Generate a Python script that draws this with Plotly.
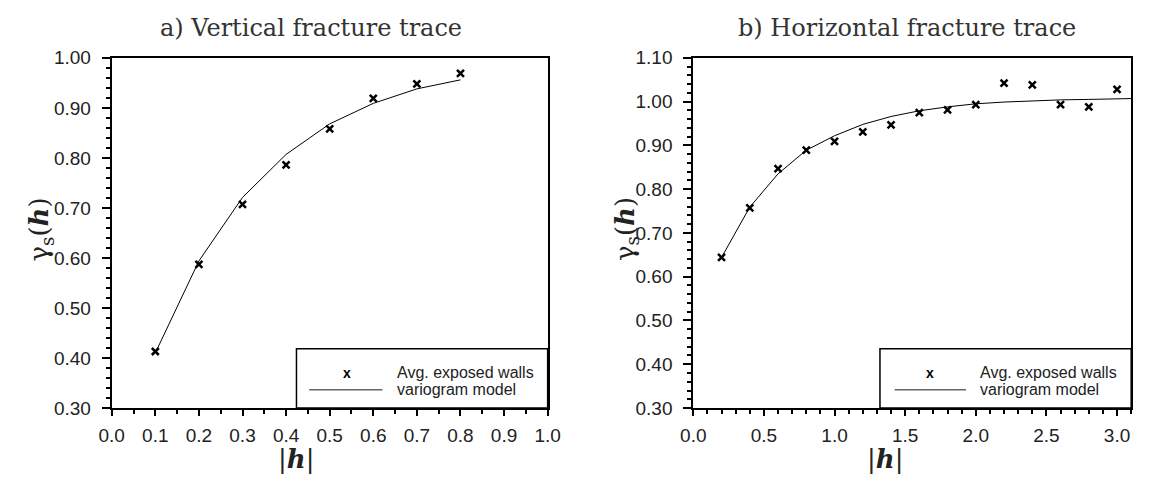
import plotly.graph_objects as go

# ---- data: a) vertical fracture trace
h_a = [0.1, 0.2, 0.3, 0.4, 0.5, 0.6, 0.7, 0.8]
obs_a = [0.413, 0.587, 0.707, 0.786, 0.858, 0.919, 0.948, 0.969]
model_h_a = [0.1, 0.2, 0.3, 0.4, 0.5, 0.6, 0.7, 0.8]
model_a = [0.410, 0.594, 0.721, 0.807, 0.868, 0.909, 0.938, 0.956]

# ---- data: b) horizontal fracture trace
h_b = [0.2, 0.4, 0.6, 0.8, 1.0, 1.2, 1.4, 1.6, 1.8, 2.0, 2.2, 2.4, 2.6, 2.8, 3.0]
obs_b = [0.644, 0.757, 0.847, 0.889, 0.909, 0.931, 0.947, 0.975, 0.981, 0.993,
         1.042, 1.038, 0.993, 0.988, 1.028]
model_h_b = [0.2, 0.4, 0.6, 0.8, 1.0, 1.2, 1.4, 1.6, 1.8, 2.0, 2.2, 2.4, 2.6, 2.8, 3.0, 3.1]
model_b = [0.644, 0.759, 0.835, 0.889, 0.922, 0.948, 0.966, 0.979, 0.988, 0.995,
           0.999, 1.002, 1.004, 1.005, 1.006, 1.007]

titles = ["a) Vertical fracture trace", "b) Horizontal fracture trace"]
legend_labels = ["Avg. exposed walls", "variogram model"]

W, H = 1152, 486
SERIF = "DejaVu Serif"
SANS = "Liberation Sans"

fig = go.Figure()

fig.add_trace(go.Scatter(x=model_h_a, y=model_a, mode="lines",
                         line=dict(color="black", width=1), xaxis="x", yaxis="y",
                         showlegend=False))
fig.add_trace(go.Scatter(x=h_a, y=obs_a, mode="markers",
                         marker=dict(symbol="x-thin", size=7, line=dict(width=2.5, color="black")),
                         xaxis="x", yaxis="y", showlegend=False))
fig.add_trace(go.Scatter(x=model_h_b, y=model_b, mode="lines",
                         line=dict(color="black", width=1), xaxis="x2", yaxis="y2",
                         showlegend=False))
fig.add_trace(go.Scatter(x=h_b, y=obs_b, mode="markers",
                         marker=dict(symbol="x-thin", size=7, line=dict(width=2.5, color="black")),
                         xaxis="x2", yaxis="y2", showlegend=False))

ydom = [1 - 416 / H, 1 - 50 / H]
xdom1 = [101 / W, 547 / W]
xdom2 = [696 / W, 1144 / W]

tickfont = dict(family=SANS, size=19, color="#222")
common_x = dict(showline=True, mirror=True, linewidth=2, linecolor="black",
                ticks="outside", ticklen=6, tickwidth=1.5, tickcolor="black",
                showgrid=False, zeroline=False, tickfont=tickfont,
                ticklabelstandoff=3)
common_y = dict(showline=True, mirror=True, linewidth=2, linecolor="black",
                ticks="outside", ticklen=8, tickwidth=1.5, tickcolor="black",
                showgrid=False, zeroline=False, tickfont=tickfont,
                tickformat=".2f", ticklabelstandoff=7)

fig.update_layout(
    width=W, height=H,
    margin=dict(l=0, r=0, t=0, b=0),
    paper_bgcolor="white", plot_bgcolor="white",
    showlegend=False,
    xaxis=dict(domain=xdom1, range=[0, 1.0], dtick=0.1, tickformat=".1f",
               minor=dict(dtick=0.05, ticks="outside", ticklen=4, tickcolor="black"),
               anchor="y", **common_x),
    yaxis=dict(domain=ydom, range=[0.3, 1.0], dtick=0.1,
               minor=dict(dtick=0.02, ticks="outside", ticklen=4, tickcolor="black"),
               anchor="x", **common_y),
    xaxis2=dict(domain=xdom2, range=[0, 3.1], dtick=0.5, tickformat=".1f",
                minor=dict(dtick=0.1, ticks="outside", ticklen=4, tickcolor="black"),
                anchor="y2", **common_x),
    yaxis2=dict(domain=ydom, range=[0.3, 1.1], dtick=0.1,
                minor=dict(dtick=0.02, ticks="outside", ticklen=4, tickcolor="black"),
                anchor="x2", **common_y),
)

shapes = []
annotations = []

# titles
for cx, t in zip([305, 915], titles):
    annotations.append(dict(x=cx / W, y=1 - 19 / H, xref="paper", yref="paper",
                            text=t, showarrow=False, xanchor="center", yanchor="middle",
                            font=dict(family=SERIF, size=24, color="#333")))
# x titles
for cx in [290, 892]:
    annotations.append(dict(x=cx / W, y=1 - 469 / H, xref="paper", yref="paper",
                            text="|<b><i>h</i></b>|", showarrow=False,
                            xanchor="center", yanchor="middle",
                            font=dict(family=SERIF, size=26, color="#222")))
# y titles
for cx in [28, 627]:
    annotations.append(dict(x=cx / W, y=1 - 229 / H, xref="paper", yref="paper",
                            text="γ<sub>s</sub>(<b><i>h</i></b>)", showarrow=False,
                            textangle=-90, xanchor="center", yanchor="middle",
                            font=dict(family=SERIF, size=26, color="#222")))

# legend boxes (axis-domain coordinates)
y_row1 = (416 - 379) / 366
y_row2 = (416 - 397) / 366
for xr, yr, x0, ls0, ls1, mx, tx in [("x domain", "y domain", 0.4238, 0.4529, 0.621, 0.540, 0.6500),
                                      ("x2 domain", "y2 domain", 0.4263, 0.4598, 0.6228, 0.540, 0.6500)]:
    shapes.append(dict(type="rect", xref=xr, yref=yr, x0=x0, x1=1, y0=0, y1=0.1694,
                       line=dict(color="black", width=1.5), fillcolor="white", layer="above"))
    shapes.append(dict(type="line", xref=xr, yref=yr, x0=ls0, x1=ls1, y0=y_row2, y1=y_row2,
                       line=dict(color="#666", width=1.5), layer="above"))
    annotations.append(dict(x=mx, y=y_row1, xref=xr, yref=yr, text="<b>x</b>",
                            showarrow=False, xanchor="center", yanchor="middle",
                            font=dict(family=SANS, size=14, color="black")))
    annotations.append(dict(x=tx, y=y_row1, xref=xr, yref=yr, text=legend_labels[0],
                            showarrow=False, xanchor="left", yanchor="middle",
                            font=dict(family=SANS, size=16, color="#222")))
    annotations.append(dict(x=tx, y=y_row2, xref=xr, yref=yr, text=legend_labels[1],
                            showarrow=False, xanchor="left", yanchor="middle",
                            font=dict(family=SANS, size=16, color="#222")))

fig.update_layout(shapes=shapes, annotations=annotations)
fig.write_html("out.html")
